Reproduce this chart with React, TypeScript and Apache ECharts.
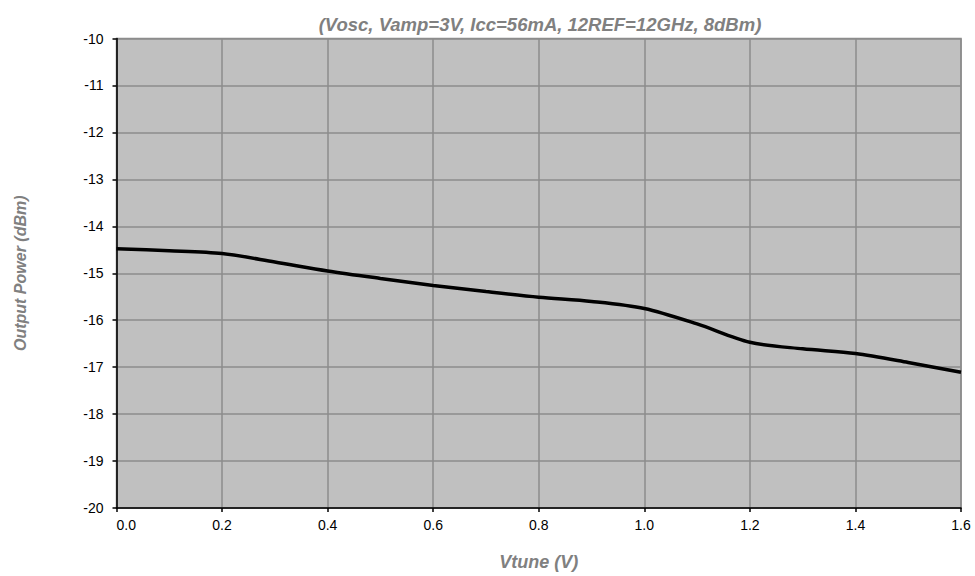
import React, { useEffect, useRef } from "react";
import * as echarts from "echarts";

const titleText = "(Vosc, Vamp=3V, Icc=56mA, 12REF=12GHz, 8dBm)";
const xName = "Vtune (V)";
const yName = "Output Power (dBm)";
const vtune = [0, 0.1, 0.2, 0.3, 0.4, 0.5, 0.6, 0.7, 0.8, 0.9, 1.0, 1.1, 1.2, 1.3, 1.4, 1.5, 1.6];
const power = [-14.48, -14.52, -14.58, -14.76, -14.95, -15.11, -15.26, -15.39, -15.51, -15.6, -15.75, -16.08, -16.47, -16.61, -16.71, -16.9, -17.11];

export default function App() {
  const ref = useRef<HTMLDivElement>(null);
  useEffect(() => {
    if (!ref.current) return;
    const chart = echarts.init(ref.current, null, { renderer: "svg" });
    const font = "'Liberation Sans', Arial, sans-serif";
    chart.setOption({
      animation: false,
      backgroundColor: "#ffffff",
      title: {
        text: titleText,
        left: 535,
        textAlign: "center",
        top: 10,
        textStyle: { fontFamily: font, fontSize: 18.5, fontWeight: "bold", fontStyle: "italic", color: "#808080" },
      },
      grid: {
        left: 116.5,
        right: 14,
        top: 38.5,
        bottom: 67,
        show: true,
        backgroundColor: "#c0c0c0",
        borderColor: "#8c8c8c",
        borderWidth: 1.5,
      },
      xAxis: {
        type: "value",
        min: 0,
        max: 1.6,
        interval: 0.2,
        name: xName,
        nameLocation: "middle",
        nameGap: 45,
        nameTextStyle: { fontFamily: font, fontSize: 18, fontWeight: "bold", fontStyle: "italic", color: "#808080" },
        axisLine: { show: true, onZero: false, lineStyle: { color: "#000", width: 1.5 } },
        axisTick: { show: true, length: 4, lineStyle: { color: "#000", width: 1.5 } },
        axisLabel: { fontFamily: font, fontSize: 14, color: "#000", margin: 10, alignMinLabel: "left", formatter: (v: number) => v.toFixed(1) },
        splitLine: { show: true, lineStyle: { color: "#8c8c8c", width: 1.5 } },
      },
      yAxis: {
        type: "value",
        min: -20,
        max: -10,
        interval: 1,
        name: yName,
        nameLocation: "middle",
        nameGap: 88.5,
        nameTextStyle: { fontFamily: font, fontSize: 16, fontWeight: "bold", fontStyle: "italic", color: "#808080" },
        axisLine: { show: true, onZero: false, lineStyle: { color: "#000", width: 1.5 } },
        axisTick: { show: true, length: 4, lineStyle: { color: "#000", width: 1.5 } },
        axisLabel: { fontFamily: font, fontSize: 14, color: "#000", margin: 13 },
        splitLine: { show: true, lineStyle: { color: "#8c8c8c", width: 1.5 } },
      },
      series: [
        {
          type: "line",
          data: vtune.map((x, i) => [x, power[i]]),
          smooth: 0.3,
          showSymbol: false,
          lineStyle: { color: "#000", width: 3.5 },
        },
      ],
    });
    return () => chart.dispose();
  }, []);
  return <div ref={ref} style={{ width: 975, height: 576, position: "absolute", left: 0, top: 0 }} />;
}
